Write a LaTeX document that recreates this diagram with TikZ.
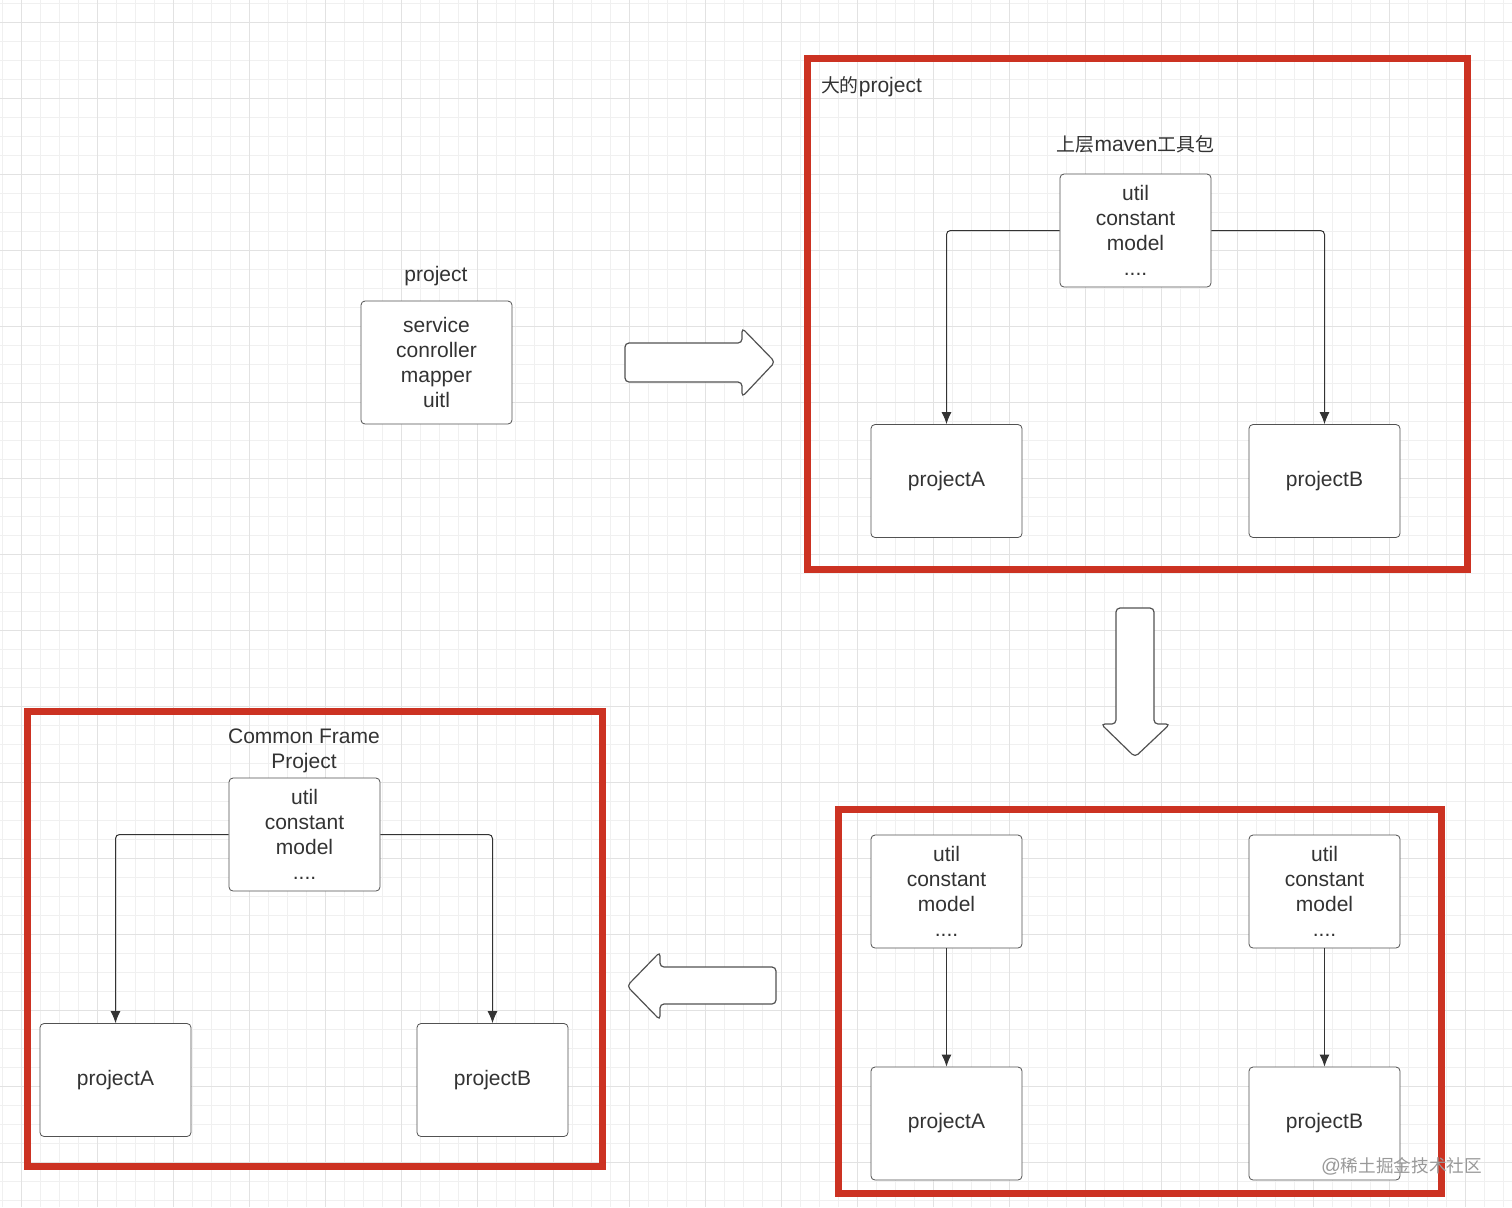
\documentclass[tikz,border=0pt]{standalone}
\usepackage{fontspec}
\setmainfont{Liberation Sans}
\newfontfamily\cjk[Scale=0.9]{Noto Sans CJK SC}
\usepackage{tikz}
\usetikzlibrary{arrows.meta}
\definecolor{framered}{RGB}{204,50,34}
\definecolor{inkgray}{RGB}{51,51,51}
\definecolor{gridminor}{RGB}{240,240,240}
\definecolor{gridmajor}{RGB}{226,226,226}
\def\boxnode{\node[rectangle,rounded corners=2pt,draw=inkgray!85,fill=white,align=center,minimum width=75.5pt,minimum height=56.5pt,inner sep=0pt]}
\tikzset{
  frame/.style={draw=framered,line width=3.5pt},
  blockarrow/.style={draw=inkgray!85,fill=white,line width=0.6pt,rounded corners=2pt},
  link/.style={draw=inkgray,line width=0.5pt,rounded corners=2pt,-{Latex[length=6pt,width=5pt]}}
}

\begin{document}
\begin{tikzpicture}[x=0.5pt,y=-0.5pt,font=\fontsize{10.5}{12.5}\selectfont,text=inkgray]
\useasboundingbox[fill=white] (0,0) rectangle (1512,1207);
\foreach \x in {2,21,...,1512} \draw[gridminor,line width=0.5pt] (\x,0) -- (\x,1207);
\foreach \y in {3,22,...,1207} \draw[gridminor,line width=0.5pt] (0,\y) -- (1512,\y);
\foreach \x in {21,97,...,1512} \draw[gridmajor,line width=0.5pt] (\x,0) -- (\x,1207);
\foreach \y in {22,98,...,1207} \draw[gridmajor,line width=0.5pt] (0,\y) -- (1512,\y);

\node (title) at (436,276) {project};
\boxnode[minimum height=61.5pt] (proj) at (436.5,362.5) {service\\conroller\\mapper\\uitl};

\draw[blockarrow] (625,343) -- (742,343) -- (742,328) -- (775,362) -- (742,397) -- (742,382) -- (625,382) -- cycle;

\draw[frame] (807,58) rectangle (1467,569);
\node[anchor=west] (big) at (814,87) {{\cjk 大的}project};
\node (toolA) at (1135.5,144) {{\cjk 上层}maven{\cjk 工具包}};
\boxnode (utilA) at (1135.5,230.5) {util\\constant\\model\\....};
\boxnode (pA1) at (946.5,481) {projectA};
\boxnode (pB1) at (1324.5,481) {projectB};
\draw[link] (utilA.west) -| (pA1.north);
\draw[link] (utilA.east) -| (pB1.north);

\draw[blockarrow] (1116,608) -- (1154,608) -- (1154,724) -- (1170,724) -- (1135,757) -- (1101,724) -- (1116,724) -- cycle;

\draw[frame] (838,809) rectangle (1441,1193);
\boxnode (utilL) at (946.5,891.5) {util\\constant\\model\\....};
\boxnode (utilR) at (1324.5,891.5) {util\\constant\\model\\....};
\boxnode (pA2) at (946.5,1123.5) {projectA};
\boxnode (pB2) at (1324.5,1123.5) {projectB};
\draw[link] (utilL.south) -- (pA2.north);
\draw[link] (utilR.south) -- (pB2.north);

\draw[blockarrow] (776,967) -- (660,967) -- (660,952) -- (627,986) -- (660,1020) -- (660,1004) -- (776,1004) -- cycle;

\draw[frame] (27,711) rectangle (602,1166);
\node[align=center] (common) at (304,751) {Common Frame\\Project};
\boxnode (utilC) at (304.5,834.5) {util\\constant\\model\\....};
\boxnode (pA3) at (115.5,1080) {projectA};
\boxnode (pB3) at (492.5,1080) {projectB};
\draw[link] (utilC.west) -| (pA3.north);
\draw[link] (utilC.east) -| (pB3.north);

\node[anchor=west,text=gray!80,font=\fontsize{9.8}{11}\selectfont] (mark) at (1314,1166) {@{\cjk 稀土掘金技术社区}};
\end{tikzpicture}
\end{document}
